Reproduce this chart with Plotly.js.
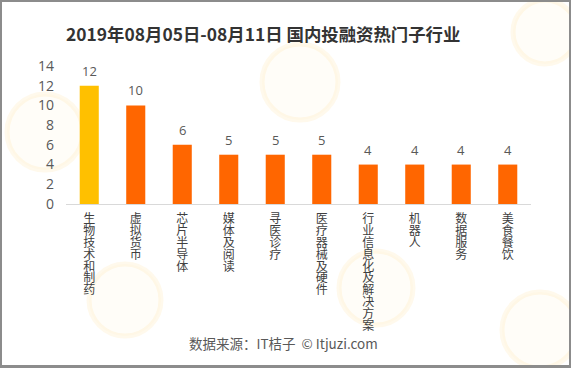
<!DOCTYPE html>
<html><head><meta charset="utf-8">
<script src="https://cdn.plot.ly/plotly-3.0.1.min.js"></script>
<style>
html,body{margin:0;padding:0;background:#fff;}
#wrap{position:relative;width:571px;height:368px;box-sizing:border-box;border:2px solid #8c8c8c;border-bottom-width:3px;overflow:hidden;}
#chart{position:absolute;left:-2px;top:-2px;width:571px;height:368px;}
</style></head>
<body><div id="wrap"><div id="chart"></div></div>
<script>
const categories = ["生物技术和制药","虚拟货币","芯片半导体","媒体及阅读","寻医诊疗","医疗器械及硬件","行业信息化及解决方案","机器人","数据服务","美食餐饮"];
const values = [12,10,6,5,5,5,4,4,4,4];
const yTicks = [0,2,4,6,8,10,12,14];
const titleText = "2019年08月05日-08月11日 国内投融资热门子行业";
const sourceText = "数据来源：IT桔子  © Itjuzi.com";

const cjk = '"Microsoft YaHei","Noto Sans CJK SC","Noto Sans",sans-serif';
const num = '"Open Sans","Noto Sans",sans-serif';
const colors = values.map((v,i)=> i===0 ? "#FFC000" : "#FF6600");

const trace = {
  type:"bar", x:categories, y:values,
  marker:{color:colors}, width:0.41,
  hoverinfo:"none"
};

const annotations = [];
categories.forEach((c,i)=>{
  annotations.push({x:c, y:values[i], xref:"x", yref:"y", text:String(values[i]),
    showarrow:false, yanchor:"middle", yshift:15,
    font:{size:13,color:"#595959",family:num}});
});
annotations.push({text:sourceText, xref:"paper", yref:"paper", x:0.467, y:-1.007,
  xanchor:"center", yanchor:"middle", showarrow:false,
  font:{size:13.5,color:"#595959",family:cjk}});

// very faint background watermark circles
const circ = (cx,cy,r)=>({type:"circle", xref:"paper", yref:"paper", layer:"below",
  x0:(cx-r-66)/465, x1:(cx+r-66)/465, y0:(204-cy-r)/138, y1:(204-cy+r)/138,
  line:{color:"rgba(255,205,110,0.13)",width:5}, fillcolor:"rgba(255,225,160,0.07)"});
const shapes = [circ(45,132,38),circ(300,82,38),circ(545,32,32),circ(376,288,37),circ(125,300,36),circ(540,330,38)];

const layout = {
  width:571, height:368,
  margin:{l:66,r:40,t:66,b:164},
  paper_bgcolor:"rgba(0,0,0,0)", plot_bgcolor:"rgba(0,0,0,0)",
  font:{family:cjk,color:"#595959"},
  title:{text:titleText, x:0.461, xanchor:"center", y:0.905, yanchor:"middle",
         font:{size:17.4,color:"#333333",family:cjk,weight:"bold"}},
  xaxis:{tickmode:"array", tickvals:categories, ticktext:categories.map(s=>s.split("").join("<br>")),
         tickangle:0, ticklabelstandoff:4, showline:true, linecolor:"#d9d9d9", linewidth:1,
         ticks:"", tickfont:{size:12,color:"#404040",family:cjk}, fixedrange:true},
  yaxis:{range:[0,14], tickvals:yTicks, showgrid:false, zeroline:false, showline:false,
         ticks:"", ticklabelstandoff:11, tickfont:{size:14,color:"#595959",family:num}, fixedrange:true},
  showlegend:false,
  annotations:annotations,
  shapes:shapes
};
Plotly.newPlot("chart",[trace],layout,{staticPlot:true,displayModeBar:false}).then(gd=>{
  // tighten the line spacing of the vertical (one character per line) category labels
  const step = 11.8, fs = 12;
  gd.querySelectorAll("g.xtick text").forEach(t=>{
    t.querySelectorAll("tspan.line").forEach(sp=>{
      const dy = sp.getAttribute("dy") || "0em";
      const em = parseFloat(dy);
      if (dy.indexOf("em")>=0) sp.setAttribute("dy", (em/1.3*step)+"px");
      else sp.setAttribute("dy", (em/(1.3*fs)*step)+"px");
    });
  });
});
</script></body></html>
